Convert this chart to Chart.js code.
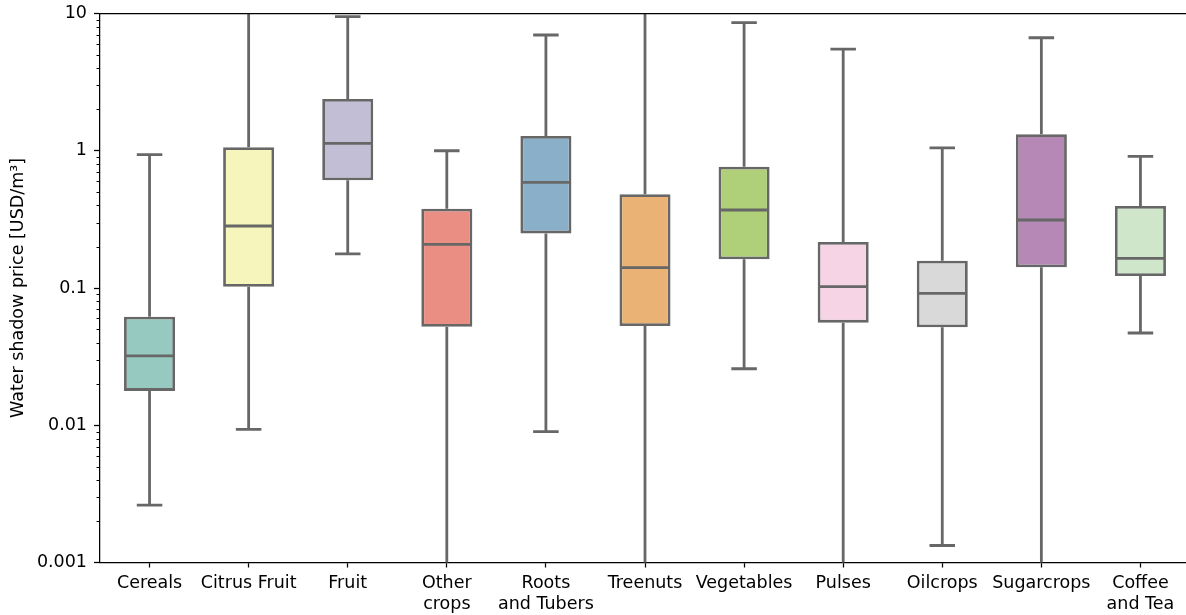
<!DOCTYPE html>
<html>
<head>
<meta charset="utf-8">
<script src="https://cdn.jsdelivr.net/npm/chart.js@4/dist/chart.umd.min.js"></script>
<style>
  html, body { margin: 0; padding: 0; background: #fff; overflow: hidden; }
  canvas { display: block; }
</style>
</head>
<body>
<canvas id="c" width="1190" height="615"></canvas>
<script>
// Crop groups (multi-line labels are arrays)
const categories = [
  'Cereals', 'Citrus Fruit', 'Fruit', ['Other', 'crops'], ['Roots', 'and Tubers'],
  'Treenuts', 'Vegetables', 'Pulses', 'Oilcrops', 'Sugarcrops', ['Coffee', 'and Tea']
];

// Box statistics per crop group, USD per m³
const whiskerLow  = [0.00262, 0.00934, 0.177, 0.0004, 0.00898, 0.0004, 0.0258, 0.0004, 0.00133, 0.0004, 0.047];
const quartile1   = [0.0178,  0.102,   0.609, 0.0522, 0.250,   0.0528, 0.162,  0.0559, 0.0517,  0.1415, 0.1223];
const medians     = [0.0320,  0.283,   1.133, 0.208,  0.589,   0.1406, 0.370,  0.1022, 0.0915,  0.313,  0.1646];
const quartile3   = [0.0618,  1.06,    2.38,  0.378,  1.28,    0.4816, 0.765,  0.2163, 0.158,   1.318,  0.396];
const whiskerHigh = [0.936,   25,      9.48,  1.0,    6.97,    30,     8.57,   5.51,   1.05,    6.66,   0.911];

// Log axis labels
const yTickValues = [0.001, 0.01, 0.1, 1, 10];
const yTickLabels = ['0.001', '0.01', '0.1', '1', '10'];

// Set3 qualitative palette, muted a little
const set3 = ['#8dd3c7', '#ffffb3', '#bebada', '#fb8072', '#80b1d3', '#fdb462',
              '#b3de69', '#fccde5', '#d9d9d9', '#bc80bd', '#ccebc5'];

function desaturate(hex, prop) {
  let r = parseInt(hex.slice(1, 3), 16) / 255;
  let g = parseInt(hex.slice(3, 5), 16) / 255;
  let b = parseInt(hex.slice(5, 7), 16) / 255;
  const max = Math.max(r, g, b), min = Math.min(r, g, b);
  const l = (max + min) / 2;
  let h = 0, s = 0;
  if (max !== min) {
    const d = max - min;
    s = l > 0.5 ? d / (2 - max - min) : d / (max + min);
    if (max === r) h = ((g - b) / d + (g < b ? 6 : 0));
    else if (max === g) h = (b - r) / d + 2;
    else h = (r - g) / d + 4;
    h /= 6;
  }
  s *= prop;
  const hue2rgb = (p, q, t) => {
    if (t < 0) t += 1; if (t > 1) t -= 1;
    if (t < 1 / 6) return p + (q - p) * 6 * t;
    if (t < 1 / 2) return q;
    if (t < 2 / 3) return p + (q - p) * (2 / 3 - t) * 6;
    return p;
  };
  if (s === 0) { r = g = b = l; } else {
    const q = l < 0.5 ? l * (1 + s) : l + s - l * s;
    const p = 2 * l - q;
    r = hue2rgb(p, q, h + 1 / 3); g = hue2rgb(p, q, h); b = hue2rgb(p, q, h - 1 / 3);
  }
  const to = v => Math.round(v * 255).toString(16).padStart(2, '0');
  return '#' + to(r) + to(g) + to(b);
}
const boxColors = set3.map(c => desaturate(c, 0.75));

const LINE = '#676767';
const LW = 2.8;
const FONT = { family: '"DejaVu Sans", sans-serif', size: 17.5 };

// Whiskers, caps, medians, top spine and minor log ticks
const boxDecor = {
  id: 'boxDecor',
  beforeDatasetsDraw(chart) {
    const { ctx, chartArea } = chart;
    const x = chart.scales.x, y = chart.scales.y;
    const bars = chart.getDatasetMeta(0).data;
    ctx.save();
    ctx.beginPath();
    ctx.rect(chartArea.left, chartArea.top, chartArea.right - chartArea.left, chartArea.bottom - chartArea.top);
    ctx.clip();
    ctx.strokeStyle = LINE;
    ctx.lineWidth = LW;
    ctx.lineCap = 'butt';
    categories.forEach((_, i) => {
      const cx = x.getPixelForValue(i);
      const capHalf = bars[i].width / 4;
      const yq1 = y.getPixelForValue(quartile1[i]);
      const yq3 = y.getPixelForValue(quartile3[i]);
      const ylo = y.getPixelForValue(whiskerLow[i]);
      const yhi = y.getPixelForValue(whiskerHigh[i]);
      ctx.beginPath();
      ctx.moveTo(cx, yq3); ctx.lineTo(cx, yhi);
      ctx.moveTo(cx, yq1); ctx.lineTo(cx, ylo);
      ctx.moveTo(cx - capHalf, yhi); ctx.lineTo(cx + capHalf, yhi);
      ctx.moveTo(cx - capHalf, ylo); ctx.lineTo(cx + capHalf, ylo);
      ctx.stroke();
    });
    ctx.restore();
  },
  afterDatasetsDraw(chart) {
    const { ctx } = chart;
    const x = chart.scales.x, y = chart.scales.y;
    const bars = chart.getDatasetMeta(0).data;
    ctx.save();
    ctx.strokeStyle = LINE;
    ctx.lineWidth = LW;
    categories.forEach((_, i) => {
      const cx = x.getPixelForValue(i);
      const half = bars[i].width / 2 - 1;
      const ym = y.getPixelForValue(medians[i]);
      ctx.beginPath();
      ctx.moveTo(cx - half, ym); ctx.lineTo(cx + half, ym);
      ctx.stroke();
    });
    ctx.restore();
  },
  afterDraw(chart) {
    const { ctx, chartArea } = chart;
    const y = chart.scales.y;
    ctx.save();
    ctx.strokeStyle = '#000';
    ctx.lineWidth = 1.25;
    // top spine
    ctx.beginPath();
    ctx.moveTo(chartArea.left, chartArea.top);
    ctx.lineTo(chartArea.right, chartArea.top);
    ctx.stroke();
    // minor ticks between decades
    ctx.lineWidth = 1;
    ctx.beginPath();
    for (let d = 0; d < yTickValues.length - 1; d++) {
      for (let k = 2; k <= 9; k++) {
        const py = Math.round(y.getPixelForValue(yTickValues[d] * k)) + 0.5;
        ctx.moveTo(chartArea.left - 3.5, py);
        ctx.lineTo(chartArea.left, py);
      }
    }
    ctx.stroke();
    ctx.restore();
  }
};

new Chart(document.getElementById('c'), {
  type: 'bar',
  data: {
    labels: categories,
    datasets: [{
      data: quartile1.map((v, i) => [v, quartile3[i]]),
      backgroundColor: boxColors,
      borderColor: LINE,
      borderWidth: LW,
      borderSkipped: false,
      barPercentage: 0.515,
      categoryPercentage: 1.0
    }]
  },
  options: {
    responsive: false,
    devicePixelRatio: 1,
    animation: false,
    layout: { padding: { top: 13.5, right: 0, bottom: 0, left: 0 } },
    plugins: { legend: { display: false }, tooltip: { enabled: false } },
    scales: {
      x: {
        offset: true,
        grid: { display: true, drawOnChartArea: false, offset: false, tickLength: 5, tickColor: '#000', tickWidth: 1.25 },
        border: { display: true, color: '#000', width: 1.25 },
        ticks: { color: '#000', font: FONT, padding: 5, maxRotation: 0, autoSkip: false },
        afterFit(scale) { scale.height = 52.5; scale.paddingLeft = 0; scale.paddingRight = 0; }
      },
      y: {
        type: 'logarithmic',
        min: 0.001,
        max: 10,
        afterBuildTicks(scale) { scale.ticks = yTickValues.map(v => ({ value: v, major: true })); },
        grid: { display: true, drawOnChartArea: false, tickLength: 6, tickColor: '#000', tickWidth: 1.25 },
        border: { display: true, color: '#000', width: 1.25 },
        ticks: {
          color: '#000', font: FONT, padding: 7,
          callback: (v) => { const i = yTickValues.indexOf(v); return i >= 0 ? yTickLabels[i] : ''; }
        },
        title: {
          display: true,
          text: 'Water shadow price [USD/m³]',
          color: '#000',
          font: FONT,
          padding: { top: 8, bottom: 0 }
        },
        afterFit(scale) { scale.width = 100; scale.paddingTop = 0; scale.paddingBottom = 0; }
      }
    }
  },
  plugins: [boxDecor]
});
</script>
</body>
</html>
